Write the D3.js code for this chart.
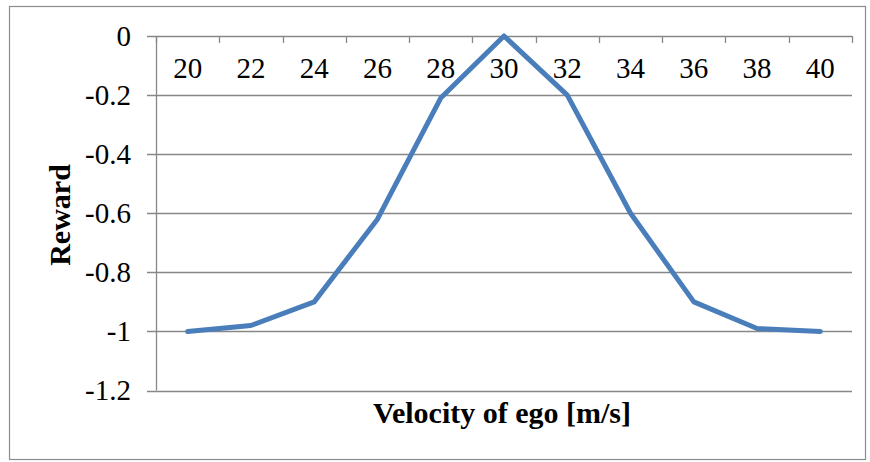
<!DOCTYPE html>
<html>
<head>
<meta charset="utf-8">
<script src="https://cdn.jsdelivr.net/npm/d3@7"></script>
<style>
  body { margin: 0; background: #fff; }
  text { font-family: "Liberation Serif", "Times New Roman", serif; fill: #000; }
</style>
</head>
<body>
<div id="chart"></div>
<script>
var velocities = [20, 22, 24, 26, 28, 30, 32, 34, 36, 38, 40];
var rewards = [-1.0, -0.98, -0.9, -0.62, -0.21, 0, -0.2, -0.6, -0.9, -0.99, -1.0];
var yTicks = [0, -0.2, -0.4, -0.6, -0.8, -1, -1.2];

var W = 870, H = 462;
var pLeft = 156, pRight = 852, pTop = 36, pBottom = 390.5;

var svg = d3.select("#chart").append("svg")
    .attr("width", W)
    .attr("height", H);

// outer border
svg.append("rect")
    .attr("x", 9.5).attr("y", 6.5)
    .attr("width", 856).attr("height", 453)
    .attr("fill", "#fff")
    .attr("stroke", "#8c8c8c")
    .attr("stroke-width", 1.2);

var x = d3.scaleBand().domain(velocities).range([pLeft, pRight]);
var y = d3.scaleLinear().domain([-1.2, 0]).range([pBottom, pTop]);

// gridlines
svg.append("g").selectAll("line")
    .data(yTicks)
    .enter()
    .append("line")
    .attr("x1", pLeft - 9)
    .attr("x2", pRight)
    .attr("y1", function(d) { return Math.round(y(d)) + 0.5; })
    .attr("y2", function(d) { return Math.round(y(d)) + 0.5; })
    .attr("stroke", "#878787")
    .attr("stroke-width", 1.3);

// y axis line
svg.append("line")
    .attr("x1", pLeft + 0.5).attr("x2", pLeft + 0.5)
    .attr("y1", pTop).attr("y2", pBottom)
    .attr("stroke", "#878787")
    .attr("stroke-width", 1.3);

// y labels
svg.append("g").selectAll("text")
    .data(yTicks)
    .enter()
    .append("text")
    .attr("x", 131)
    .attr("y", function(d) { return y(d); })
    .attr("dy", "0.34em")
    .attr("text-anchor", "end")
    .attr("font-size", "29px")
    .text(function(d) { return d === 0 ? "0" : String(d); });

// x axis ticks (at category boundaries, hanging down from the 0 line)
var bounds = velocities.map(function(v) { return x(v); }).concat([pRight]);
svg.append("g").selectAll("line")
    .data(bounds)
    .enter()
    .append("line")
    .attr("x1", function(d) { return Math.round(d) + 0.5; })
    .attr("x2", function(d) { return Math.round(d) + 0.5; })
    .attr("y1", y(0))
    .attr("y2", y(0) + 7)
    .attr("stroke", "#878787")
    .attr("stroke-width", 1.3);

// x labels
svg.append("g").selectAll("text")
    .data(velocities)
    .enter()
    .append("text")
    .attr("x", function(d) { return x(d) + x.bandwidth() / 2; })
    .attr("y", 78)
    .attr("text-anchor", "middle")
    .attr("font-size", "29px")
    .text(function(d) { return d; });

// line
var line = d3.line()
    .x(function(d, i) { return x(velocities[i]) + x.bandwidth() / 2; })
    .y(function(d) { return y(d); });

svg.append("path")
    .datum(rewards)
    .attr("d", line)
    .attr("fill", "none")
    .attr("stroke", "#4a7ebb")
    .attr("stroke-width", 5)
    .attr("stroke-linejoin", "round")
    .attr("stroke-linecap", "round");

// axis titles
svg.append("text")
    .attr("transform", "translate(70,215) rotate(-90)")
    .attr("text-anchor", "middle")
    .attr("font-size", "30px")
    .attr("font-weight", "bold")
    .text("Reward");

svg.append("text")
    .attr("x", 502)
    .attr("y", 423)
    .attr("text-anchor", "middle")
    .attr("font-size", "30px")
    .attr("font-weight", "bold")
    .text("Velocity of ego [m/s]");
</script>
</body>
</html>
